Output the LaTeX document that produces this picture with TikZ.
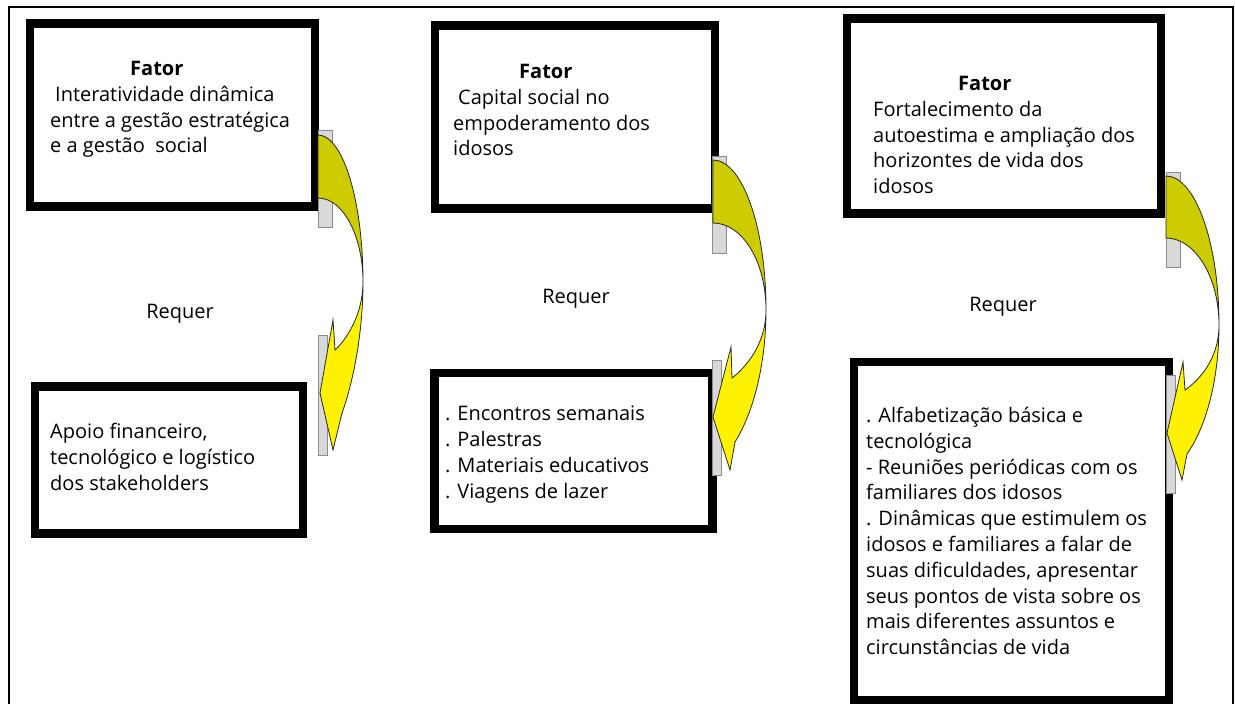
\documentclass[tikz,border=0pt]{standalone}
\usepackage{fontspec}
\setmainfont{Open Sans}
\definecolor{olivearrow}{RGB}{204,204,0}
\definecolor{barfill}{RGB}{217,217,217}
\begin{document}
\begin{tikzpicture}[x=1pt,y=-1pt,
    box/.style={draw=black,line width=8.5pt,rectangle,inner sep=0pt},
    txt/.style={anchor=north west,inner sep=0pt,align=left,font=\fontsize{20}{25.8}\selectfont},
    lbl/.style={anchor=base,inner sep=0pt,font=\fontsize{20}{25.8}\selectfont},
    bar/.style={fill=barfill,draw=black!45,line width=0.8pt},
    upper/.style={fill=olivearrow,draw=black!85,line width=0.8pt},
    lower/.style={fill=yellow,draw=black!85,line width=0.8pt}
  ]
  \useasboundingbox (0,0) rectangle (1235,704);
  % Frame.
  \draw[line width=2pt] (9,704) -- (9,7) -- (1233,7) -- (1233,704);
  % Boxes.
  \node[box,minimum width=285pt,minimum height=183pt] (fator1) at (172.5,115) {};
  \node[box,minimum width=268pt,minimum height=147pt] (requer1) at (169,460) {};
  \node[box,minimum width=280pt,minimum height=183pt] (fator2) at (574.75,117) {};
  \node[box,minimum width=278pt,minimum height=156pt] (requer2) at (573.5,451) {};
  \node[box,minimum width=314pt,minimum height=195pt] (fator3) at (1003.75,115.75) {};
  \node[box,minimum width=315pt,minimum height=338pt] (requer3) at (1011.5,531) {};
  % Texts.
  \node[txt] (fator1txt) at (50,61) {\hspace*{80pt}\textbf{Fator}\\\hspace*{5pt}Interatividade dinâmica\\entre a gestão estratégica\\e a gestão\ \ social};
  \node[txt] (requer1txt) at (50,423) {Apoio financeiro,\\tecnológico e logístico\\dos stakeholders};
  \node[txt] (fator2txt) at (453,64) {\hspace*{66pt}\textbf{Fator}\\\hspace*{5pt}Capital social no\\empoderamento dos\\idosos};
  \node[txt] (requer2txt) at (445,406) {. Encontros semanais\\. Palestras\\. Materiais educativos\\. Viagens de lazer};
  \node[txt] (fator3txt) at (873,76) {\hspace*{85pt}\textbf{Fator}\\Fortalecimento da\\autoestima e ampliação dos\\horizontes de vida dos\\idosos};
  \node[txt] (requer3txt) at (866,407) {. Alfabetização básica e\\tecnológica\\- Reuniões periódicas com os\\familiares dos idosos\\. Dinâmicas que estimulem os\\idosos e familiares a falar de\\suas dificuldades, apresentar\\seus pontos de vista sobre os\\mais diferentes assuntos e\\circunstâncias de vida};
  \node[lbl] (lbl1) at (180,318) {Requer};
  \node[lbl] (lbl2) at (576,303) {Requer};
  \node[lbl] (lbl3) at (1003,311) {Requer};
  % Grey bars behind the arrows.
  \draw[bar] (318,130) rectangle (332,227);
  \draw[bar] (318,335) rectangle (327,455);
  \draw[bar] (712,156) rectangle (726,253);
  \draw[bar] (712,360) rectangle (721,475);
  \draw[bar] (1166,172) rectangle (1180,267);
  \draw[bar] (1166,375) rectangle (1175,493);
  % Curved arrows.
  \begin{scope}[shift={(318,135)}]
    \filldraw[upper] (0,0) .. controls (25,0) and (45,66) .. (45,147) .. controls (45,101) and (25,63) .. (0,63) -- cycle;
    \filldraw[lower] (45,147) .. controls (45,195) and (36,245) .. (24,278) -- (15,315) -- (2,258) -- (15,185) -- (17,215) .. controls (28,205) and (45,180) .. (45,147) -- cycle;
  \end{scope}
  \begin{scope}[shift={(713,160)}]
    \filldraw[upper] (0,0) .. controls (29,0) and (53,66) .. (53,150) .. controls (53,101) and (29,63) .. (0,63) -- cycle;
    \filldraw[lower] (53,150) .. controls (53,200) and (42,250) .. (22,282) -- (17,310) -- (0,257) -- (18,187) -- (19,218) .. controls (32,208) and (53,185) .. (53,150) -- cycle;
  \end{scope}
  \begin{scope}[shift={(1166,176)}]
    \filldraw[upper] (0,0) .. controls (29,0) and (53,66) .. (53,149) .. controls (53,101) and (29,62) .. (0,62) -- cycle;
    \filldraw[lower] (53,149) .. controls (53,199) and (42,248) .. (21,278) -- (16,304) -- (1,257) -- (17,186) -- (19,214) .. controls (32,205) and (53,184) .. (53,149) -- cycle;
  \end{scope}
\end{tikzpicture}
\end{document}
